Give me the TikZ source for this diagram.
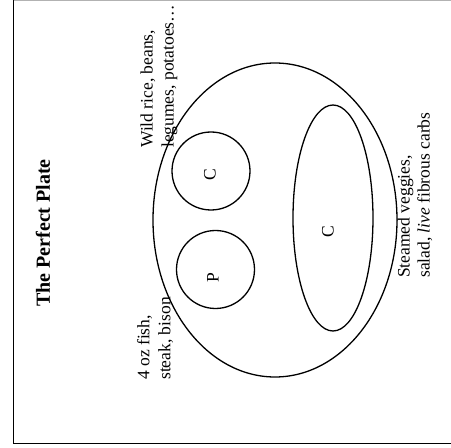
\documentclass[tikz,border=0pt]{standalone}
\usepackage{fontspec}
\setmainfont{Liberation Serif}
\usetikzlibrary{shapes.geometric}
\begin{document}
\begin{tikzpicture}[x=1pt,y=1pt,
  shape line/.style={draw=black,line width=1.3pt},
  lbl/.style={rotate=90,inner sep=0pt,align=left,font=\fontsize{17.5}{21}\selectfont},
  letter/.style={rotate=90,inner sep=0pt,font=\fontsize{17.5}{21}\selectfont}]
\useasboundingbox (0,0) rectangle (451,448);
\fill[white] (0,0) rectangle (451,448);
% frame
\draw[line width=1.5pt] (13.5,460) -- (13.5,4.5) -- (460,4.5);
\draw[gray!60,line width=0.8pt] (13.5,447.6) -- (460,447.6);
% plate
\node[shape line,ellipse,minimum width=244pt,minimum height=314pt,inner sep=0pt] (plate) at (275,228) {};
\node[shape line,circle,minimum size=78pt,inner sep=0pt] (carbcircle) at (211,277) {};
\node[shape line,circle,minimum size=78pt,inner sep=0pt] (protcircle) at (215.5,178.5) {};
\node[shape line,ellipse,minimum width=80pt,minimum height=226pt,inner sep=0pt] (veg) at (333,230) {};
% letters
\node[letter] (c1) at (210,273) {C};
\node[letter] (p1) at (213,170) {P};
\node[letter] (c2) at (328,216) {C};
% texts
\node[rotate=90,inner sep=0pt,font=\fontsize{20}{24}\selectfont\bfseries] (title) at (43,215) {The Perfect Plate};
\node[lbl,anchor=west] (wild) at (159,300) {Wild rice, beans,\\legumes, potatoes\ldots};
\node[lbl,anchor=west] (fish) at (155,68) {4 oz fish,\\steak, bison};
\node[lbl,anchor=west,font=\fontsize{17.5}{20}\selectfont] (steam) at (415,170) {Steamed veggies,\\salad, \textit{live} fibrous carbs};
\end{tikzpicture}
\end{document}
